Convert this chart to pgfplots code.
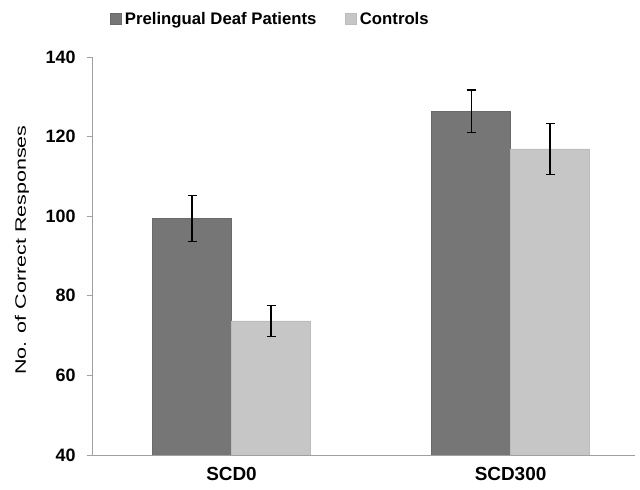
\documentclass[border=0pt]{standalone}
\usepackage{fontspec}
\setmainfont{Liberation Sans}
\usepackage{pgfplots}
\pgfplotsset{compat=1.18}
\definecolor{deaf}{HTML}{767676}
\definecolor{ctrl}{HTML}{C6C6C6}
\definecolor{axgray}{HTML}{A0A0A0}
\begin{document}
\begin{tikzpicture}
\useasboundingbox[fill=white] (0,0) rectangle (640bp,490bp);
\begin{axis}[
  at={(92bp,35bp)}, anchor=south west,
  scale only axis, width=543bp, height=398bp,
  xmin=-0.5, xmax=1.446, ymin=40, ymax=140,
  ytick={40,60,...,140},
  xtick={0,1}, xticklabels={SCD0,SCD300},
  extra x ticks={0.5}, extra x tick labels={},
  extra x tick style={major tick length=5bp, tick style={draw=axgray, line width=0.8bp}},
  axis x line*=bottom, axis y line*=left,
  axis line style={draw=axgray, line width=0.8bp, -},
  tick align=outside,
  x tick style={draw=none},
  y tick style={draw=axgray, line width=0.8bp},
  major tick length=5bp,
  /pgf/number format/assume math mode=true,
  yticklabel style={font=\fontsize{18}{21}\selectfont\bfseries, xshift=-8bp},
  xticklabel style={font=\fontsize{19}{22}\selectfont\bfseries, yshift=-4bp},
  ylabel={\scalebox{1.42}[1]{\fontsize{15.2}{17}\selectfont No. of Correct Responses}},
  ylabel style={at={(axis description cs:-0.129,0.515)}, anchor=center, rotate=0},
  ybar=0pt, bar width=0.283,
  legend style={at={(axis description cs:0.328,1.096)}, anchor=center, draw=none, fill=none,
    legend columns=-1, font=\fontsize{16.8}{20}\selectfont\bfseries,
    /tikz/every even column/.append style={column sep=26bp}},
  legend image code/.code={\fill[#1] (0bp,-5.5bp) rectangle (11bp,5.5bp);},
  legend cell align=left,
  legend style={/tikz/every odd column/.append style={column sep=2bp}},
  error bars/y dir=both, error bars/y explicit,
  error bars/error bar style={black, line width=1.1bp},
  error bars/error mark options={rotate=90, black, line width=1.1bp, mark size=4.5bp},
]
\addplot[fill=deaf, draw=deaf!90!black] coordinates {(0,99.4) +- (0,5.7) (1,126.4) +- (0,5.3)};
\addplot[fill=ctrl, draw=ctrl!95!black] coordinates {(0,73.7) +- (0,3.9) (1,116.9) +- (0,6.5)};
\legend{Prelingual Deaf Patients, Controls}
\end{axis}
\end{tikzpicture}
\end{document}
